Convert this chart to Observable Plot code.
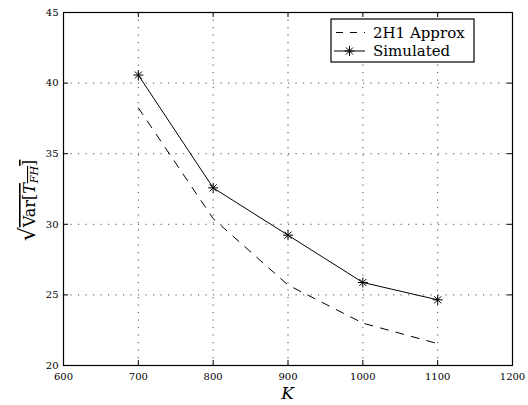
<!DOCTYPE html>
<html>
<head>
<meta charset="utf-8">
<script src="https://cdn.jsdelivr.net/npm/d3@7"></script>
<script src="https://cdn.jsdelivr.net/npm/@observablehq/plot@0.6"></script>
<style>
  html, body { margin: 0; padding: 0; background: white; }
  #chart svg { display: block; }
</style>
</head>
<body>
<div id="chart"></div>
<script>
// Standard deviation of T_FH against K: analytic approximation vs. simulation
const kValues = [700, 800, 900, 1000, 1100];
const approxValues = [38.25, 30.4, 25.7, 23.0, 21.55];
const simulatedValues = [40.57, 32.58, 29.23, 25.88, 24.65];
const xTicks = [600, 700, 800, 900, 1000, 1100, 1200];
const yTicks = [20, 25, 30, 35, 40, 45];
const seriesNames = ["2H1 Approx", "Simulated"];

const W = 528, H = 405;
const margin = {top: 12, right: 16, bottom: 40, left: 63};
const innerW = W - margin.left - margin.right;
const innerH = H - margin.top - margin.bottom;
const tickLen = 5;
const fontFamily = "'DejaVu Serif', serif";

const approx = kValues.map((k, i) => ({k, v: approxValues[i]}));
const simulated = kValues.map((k, i) => ({k, v: simulatedValues[i]}));

// asterisk marker: a "+" overlaid with an "x"
const asterisk = {
  draw(context, size) {
    const r = Math.sqrt(size / Math.PI);
    const d = r * Math.SQRT1_2;
    context.moveTo(-r, 0); context.lineTo(r, 0);
    context.moveTo(0, -r); context.lineTo(0, r);
    context.moveTo(-d, -d); context.lineTo(d, d);
    context.moveTo(-d, d); context.lineTo(d, -d);
  }
};

const dotted = "1.2,6.3";
const dashed = "8,8";

const chart = Plot.plot({
  width: W,
  height: H,
  marginTop: margin.top,
  marginRight: margin.right,
  marginBottom: margin.bottom,
  marginLeft: margin.left,
  style: {fontFamily, fontSize: "10px", background: "white", color: "black"},
  x: {domain: [600, 1200]},
  y: {domain: [20, 45]},
  marks: [
    Plot.gridX({ticks: xTicks.slice(1, -1), stroke: "black", strokeOpacity: 0.7, strokeDasharray: dotted}),
    Plot.gridY({ticks: yTicks.slice(1, -1), stroke: "black", strokeOpacity: 0.7, strokeDasharray: dotted}),
    // inward ticks on all four sides of the box
    Plot.ruleX(xTicks, {x: d => d, stroke: "black", insetTop: innerH - tickLen}),
    Plot.ruleX(xTicks, {x: d => d, stroke: "black", insetBottom: innerH - tickLen}),
    Plot.ruleY(yTicks, {y: d => d, stroke: "black", insetRight: innerW - tickLen}),
    Plot.ruleY(yTicks, {y: d => d, stroke: "black", insetLeft: innerW - tickLen}),
    Plot.frame({stroke: "black", strokeWidth: 1.2}),
    Plot.axisX({ticks: xTicks, tickFormat: d => String(d), tickSize: 0, tickPadding: 7, label: null, fill: "black"}),
    Plot.axisY({ticks: yTicks, tickFormat: d => String(d), tickSize: 0, tickPadding: 5, label: null, fill: "black"}),
    Plot.line(approx, {x: "k", y: "v", stroke: "black", strokeWidth: 1, strokeDasharray: dashed}),
    Plot.line(simulated, {x: "k", y: "v", stroke: "black", strokeWidth: 1}),
    Plot.dot(simulated, {x: "k", y: "v", symbol: asterisk, r: 5, stroke: "black", strokeWidth: 1})
  ]
});

document.getElementById("chart").appendChild(chart);

const svg = d3.select(chart);

// x-axis label
svg.append("text")
  .attr("x", margin.left + innerW / 2)
  .attr("y", H - 6)
  .attr("text-anchor", "middle")
  .attr("font-family", fontFamily)
  .attr("font-style", "italic")
  .attr("font-size", 17)
  .attr("fill", "black")
  .text("K");

// y-axis label: sqrt(Var[T_FH])
const yl = svg.append("text")
  .attr("transform", `translate(35,${margin.top + innerH / 2 + 12}) rotate(-90)`)
  .attr("text-anchor", "middle")
  .attr("font-family", fontFamily)
  .attr("font-size", 16)
  .attr("fill", "black");
yl.append("tspan").attr("font-size", 22).text("√");
const under = yl.append("tspan").style("text-decoration", "overline");
under.append("tspan").text("Var[");
under.append("tspan").attr("font-style", "italic").text("T");
under.append("tspan").attr("font-style", "italic").attr("font-size", 11).attr("dy", 3).text("FH");
under.append("tspan").attr("dy", -3).text("]");

// legend
const lg = svg.append("g").attr("text-anchor", "start");
const lx = 331, ly = 19, lw = 143, lh = 43;
lg.append("rect")
  .attr("x", lx).attr("y", ly).attr("width", lw).attr("height", lh)
  .attr("fill", "white").attr("stroke", "black").attr("stroke-width", 1.2);
const rows = [
  {name: seriesNames[0], dash: "7,7", marker: false},
  {name: seriesNames[1], dash: null, marker: true}
];
rows.forEach((row, i) => {
  const cy = ly + 13.5 + i * 18.5;
  const line = lg.append("line")
    .attr("x1", lx + 3).attr("x2", lx + 34)
    .attr("y1", cy).attr("y2", cy)
    .attr("stroke", "black").attr("stroke-width", 1);
  if (row.dash) line.attr("stroke-dasharray", row.dash).attr("stroke-dashoffset", -2);
  if (row.marker) {
    const p = d3.path();
    asterisk.draw(p, 25 * Math.PI);
    lg.append("path")
      .attr("transform", `translate(${lx + 18.5},${cy})`)
      .attr("d", p.toString())
      .attr("stroke", "black").attr("fill", "none");
  }
  lg.append("text")
    .attr("x", lx + 42)
    .attr("y", cy + 5)
    .attr("text-anchor", "start")
    .attr("font-family", fontFamily)
    .attr("font-size", 15)
    .attr("fill", "black")
    .text(row.name);
});
</script>
</body>
</html>
